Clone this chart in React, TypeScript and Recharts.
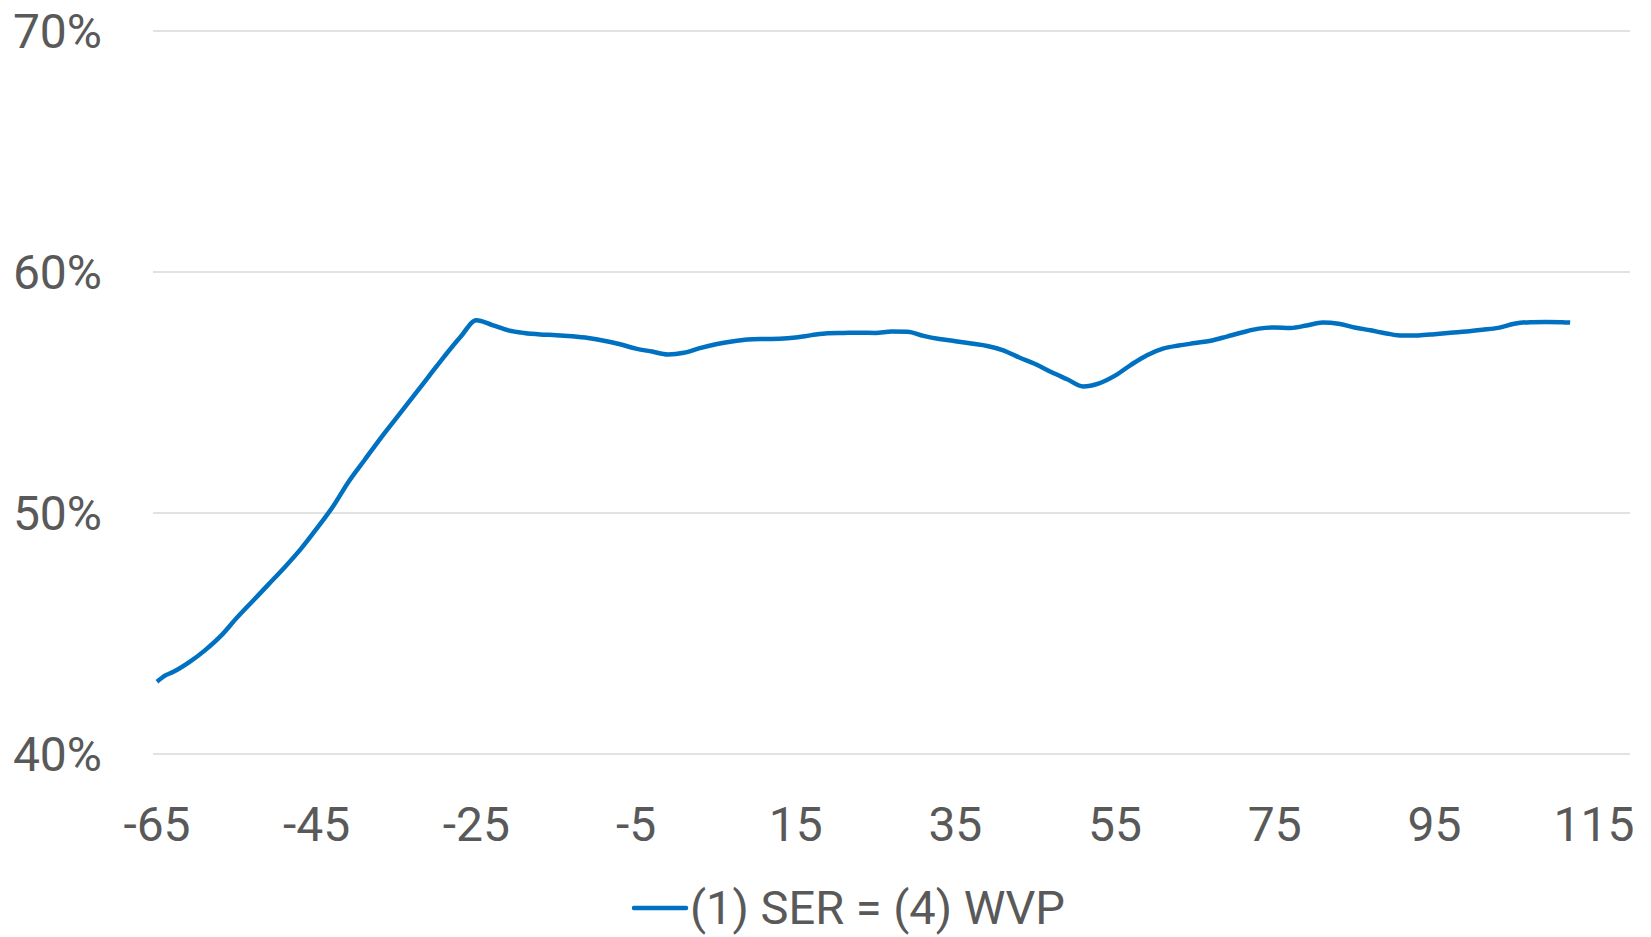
import React from 'react';
import { LineChart, Line, XAxis, YAxis, CartesianGrid, Legend } from 'recharts';

const xValues = [
  -65, -64, -63, -61, -59, -57, -55, -53, -51, -49, -47, -45, -43, -41, -39, -37, -35, -33, -31, -29, -27, -25,
  -23, -21, -19, -17, -15, -13, -11, -9, -7, -5, -3, -1, 1, 3, 5, 7, 9, 11, 13, 15, 17, 19, 21, 23, 25, 27, 29,
  31, 33, 35, 37, 39, 41, 43, 45, 47, 49, 51, 53, 55, 57, 59, 61, 63, 65, 67, 69, 71, 73, 75, 77, 79, 81, 83,
  85, 87, 89, 91, 93, 95, 97, 99, 101, 103, 105, 107, 109, 111, 112,
];

const serWvp = [
  43.0, 43.25, 43.4, 43.8, 44.3, 44.9, 45.65, 46.35, 47.05, 47.75, 48.5, 49.35, 50.25, 51.3, 52.2, 53.1, 53.95,
  54.8, 55.65, 56.5, 57.3, 58.0,
  57.8, 57.58, 57.47, 57.41, 57.38, 57.33, 57.26, 57.15, 57.0, 56.82, 56.7, 56.58, 56.65, 56.84, 57.0, 57.12,
  57.2, 57.22, 57.23, 57.28, 57.38, 57.46, 57.47, 57.48, 57.47, 57.53, 57.52,
  57.35, 57.22, 57.13, 57.03, 56.93, 56.75, 56.45, 56.18, 55.85, 55.55, 55.25, 55.38, 55.7, 56.15, 56.55, 56.82,
  56.95, 57.05, 57.15, 57.32, 57.5, 57.65, 57.7, 57.68, 57.78, 57.9, 57.85,
  57.7, 57.58, 57.45, 57.36, 57.37, 57.42, 57.48, 57.53, 57.6, 57.68, 57.85, 57.92, 57.93, 57.92, 57.9,
];

const xTicks = [-65, -45, -25, -5, 15, 35, 55, 75, 95, 115];
const yTicks = [0.4, 0.5, 0.6, 0.7];
const seriesName = '(1) SER = (4) WVP';

const data = xValues.map((x, i) => ({ x, v: serWvp[i] / 100 }));

const TEXT = '#595959';
const BLUE = '#0070C0';
const FONT = 'Roboto, "Open Sans", sans-serif';

const LegendContent = () => (
  <div style={{ display: 'flex', alignItems: 'center', height: 56, fontFamily: FONT, fontSize: 47, color: TEXT }}>
    <svg width={58} height={10} style={{ display: 'block' }}>
      <line x1={2} y1={5} x2={54} y2={5} stroke={BLUE} strokeWidth={4.5} strokeLinecap="round" />
    </svg>
    <span style={{ whiteSpace: 'nowrap', lineHeight: '56px' }}>{seriesName}</span>
  </div>
);

export default function App() {
  return (
    <div style={{ position: 'absolute', left: 0, top: 0, width: 1651, height: 937, background: '#fff' }}>
      <LineChart width={1651} height={937} data={data} margin={{ top: 31, right: 21, bottom: 0, left: 0 }}>
        <CartesianGrid horizontal vertical={false} stroke="#D9D9D9" strokeWidth={1.5} />
        <XAxis
          dataKey="x"
          type="number"
          domain={[-65.5, 119.5]}
          ticks={xTicks}
          allowDataOverflow
          axisLine={false}
          tickLine={false}
          tickSize={0}
          tickMargin={53}
          height={127}
          interval={0}
          tick={{ fill: TEXT, fontSize: 48, fontFamily: FONT }}
        />
        <YAxis
          type="number"
          domain={[0.4, 0.7]}
          ticks={yTicks}
          width={153}
          axisLine={false}
          tickLine={false}
          tickSize={0}
          tickMargin={51}
          interval={0}
          tickFormatter={(v: number) => `${Math.round(v * 100)}%`}
          tick={{ fill: TEXT, fontSize: 48, fontFamily: FONT }}
        />
        <Legend
          verticalAlign="bottom"
          content={<LegendContent />}
          wrapperStyle={{ left: 632, width: 'auto', bottom: 1 }}
        />
        <Line
          type="monotone"
          dataKey="v"
          name={seriesName}
          stroke={BLUE}
          strokeWidth={4.5}
          dot={false}
          isAnimationActive={false}
        />
      </LineChart>
    </div>
  );
}
